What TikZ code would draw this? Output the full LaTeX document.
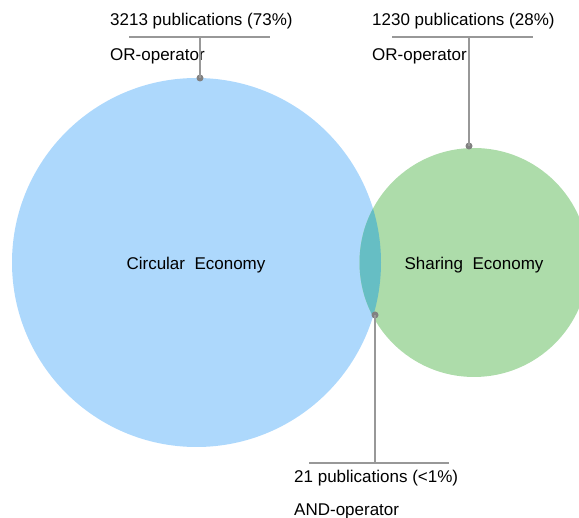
\documentclass[tikz,border=0pt]{standalone}
\usepackage{fontspec}
\setmainfont{Liberation Sans}
\definecolor{ceblue}{RGB}{173,216,252}
\definecolor{segreen}{RGB}{173,220,170}
\definecolor{both}{RGB}{102,190,196}
\definecolor{leadgray}{RGB}{152,152,152}
\tikzstyle{dot} = [fill=leadgray!85!black,shape=circle,inner sep=0pt,minimum size=7pt]
\tikzstyle{leader} = [draw=leadgray,line width=1.8pt]
\tikzstyle{tag} = [anchor=west,inner sep=0pt,font=\fontsize{17}{20}\selectfont]
\tikzstyle{setname} = [inner sep=0pt,font=\fontsize{17}{20}\selectfont]

\begin{document}
\begin{tikzpicture}[x=1pt,y=-1pt]
\useasboundingbox (0,0) rectangle (579,518);
\coordinate (ce) at (196.5,262.5);
\coordinate (se) at (474,262.5);

% the two sets and their overlap
\fill[ceblue]  (ce) circle (184.5pt);
\fill[segreen] (se) circle (114.5pt);
\begin{scope}
\clip (ce) circle (184.5pt);
\fill[both] (se) circle (114.5pt);
\end{scope}
\node[setname] (cel) at (196,265) {Circular\ \ Economy};
\node[setname] (sel) at (474,265) {Sharing\ \ Economy};

% labels
\node[tag] (n1) at (110,21)  {3213 publications (73\%)};
\node[tag] (o1) at (110,56)  {OR-operator};
\node[tag] (n2) at (372,21)  {1230 publications (28\%)};
\node[tag] (o2) at (372,56)  {OR-operator};
\node[tag] (n3) at (294,478) {21 publications (<1\%)};
\node[tag] (o3) at (294,511) {AND-operator};

% leader lines
\coordinate (t1) at (200,37);
\coordinate (t2) at (469,37);
\coordinate (t3) at (375,463);
\coordinate (a1) at (129,37);
\coordinate (b1) at (270,37);
\coordinate (a2) at (392,37);
\coordinate (b2) at (533,37);
\coordinate (a3) at (309,463);
\coordinate (b3) at (449,463);
\draw[leader] (a1) -- (b1);
\draw[leader] (a2) -- (b2);
\draw[leader] (a3) -- (b3);
\node[dot] (d1) at (200,78)  {};
\node[dot] (d2) at (469,146) {};
\node[dot] (d3) at (375,315) {};
\draw[leader] (d1.center) -- (t1);
\draw[leader] (d2.center) -- (t2);
\draw[leader] (d3.center) -- (t3);
\end{tikzpicture}
\end{document}
